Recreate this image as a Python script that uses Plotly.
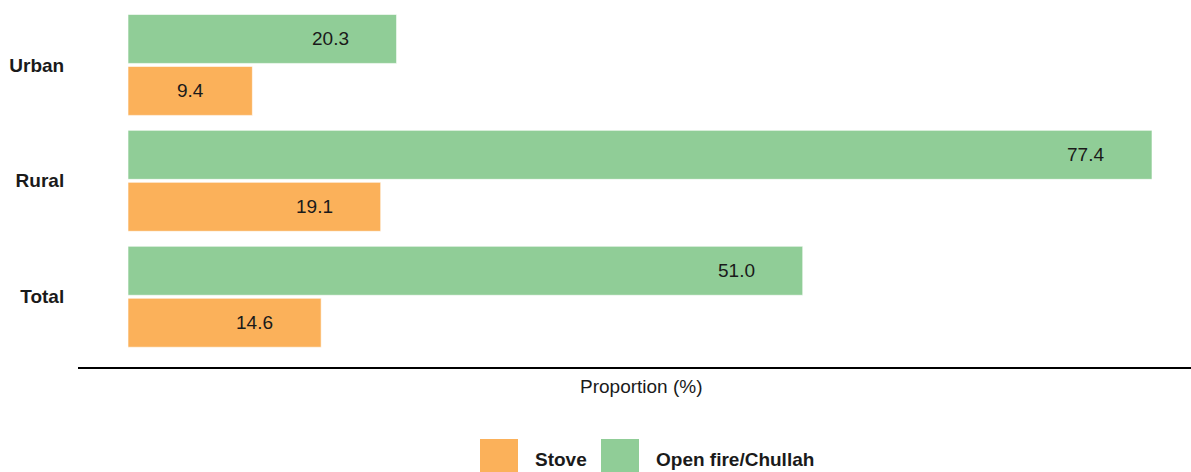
import plotly.graph_objects as go

categories = ["Urban", "Rural", "Total"]
open_fire = [20.3, 77.4, 51.0]
stove = [9.4, 19.1, 14.6]
series_names = ["Open fire/Chullah", "Stove"]
colors = {"Open fire/Chullah": "#90CD97", "Stove": "#FBB15A"}

W, H = 1191, 472
L, R, T, B = 78, 0, 0, 105
pw, ph = W - L - R, H - T - B

def px(x):
    return (x - L) / pw

def py(y):
    return (H - B - y) / ph

FONT = "Arial, 'Liberation Sans', sans-serif"

fig = go.Figure()
for name, vals in [("Open fire/Chullah", open_fire), ("Stove", stove)]:
    fig.add_trace(go.Bar(
        y=categories, x=vals, orientation="h", name=name,
        marker=dict(color=colors[name], line=dict(color="rgba(255,255,255,0.6)", width=1)),
        showlegend=False, hoverinfo="x+name",
    ))

annotations = []
for vals, shift in [(open_fire, 26), (stove, -26)]:
    for c, v in zip(categories, vals):
        annotations.append(dict(
            x=v, y=c, xref="x", yref="y", text=f"{v:.1f}", showarrow=False,
            xanchor="right", yanchor="middle", xshift=-46, yshift=shift,
            font=dict(family=FONT, size=19, color="#1a1a1a"),
        ))

annotations.append(dict(
    x=px(641), y=py(387), xref="paper", yref="paper", text="Proportion (%)",
    showarrow=False, xanchor="center", yanchor="middle",
    font=dict(family=FONT, size=19, color="#1a1a1a"),
))

shapes = []
legend_items = [("Stove", 480, 533), ("Open fire/Chullah", 601, 654)]
for name, sx, tx in legend_items:
    shapes.append(dict(
        type="rect", xref="paper", yref="paper",
        x0=px(sx), x1=px(sx + 38), y0=py(439), y1=py(485),
        fillcolor=colors[name], line=dict(width=0), layer="above",
    ))
    annotations.append(dict(
        x=px(tx), y=py(459), xref="paper", yref="paper", text=f"<b>{name}</b>",
        showarrow=False, xanchor="left", yanchor="middle",
        font=dict(family=FONT, size=19, color="#1a1a1a"),
    ))

scale = (1152 - 128) / 77.4
xmin = -(128 - L) / scale
xmax = (W - 128) / scale

fig.update_layout(
    width=W, height=H,
    margin=dict(l=L, r=R, t=T, b=B, pad=0),
    paper_bgcolor="white", plot_bgcolor="white",
    barmode="group", bargap=12 / 116, bargroupgap=3 / 52,
    showlegend=False,
    xaxis=dict(range=[xmin, xmax], showgrid=False, zeroline=False,
               showticklabels=False, ticks="", showline=True,
               linecolor="black", linewidth=2, fixedrange=True),
    yaxis=dict(range=[2.606, -0.56], showgrid=False, zeroline=False,
               showline=False, ticks="outside", ticklen=9,
               tickcolor="rgba(0,0,0,0)", fixedrange=True,
               tickfont=dict(family=FONT, size=19, color="#1a1a1a"),
               tickvals=categories, ticktext=[f"<b>{c}</b>" for c in categories]),
    annotations=annotations, shapes=shapes,
)

fig.write_html(
    "out.html",
    config={"displayModeBar": False},
    post_script="document.body.style.margin='0';document.body.style.overflow='hidden';",
)
